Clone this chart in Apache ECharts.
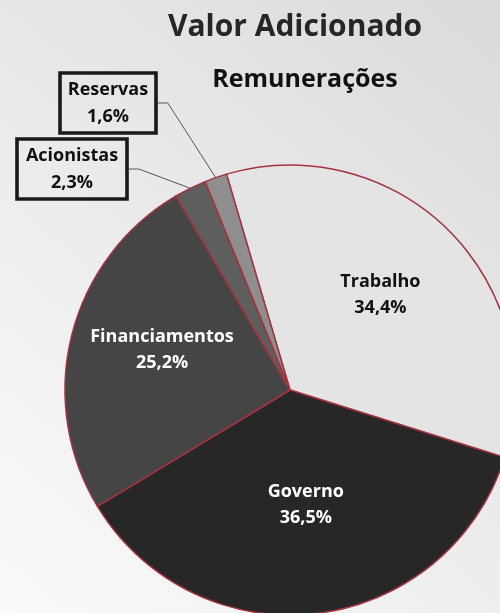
<!DOCTYPE html>
<html>
<head>
<meta charset="utf-8">
<script src="https://cdn.jsdelivr.net/npm/echarts@6/dist/echarts.min.js"></script>
<style>
  html, body { margin: 0; padding: 0; }
  #chart { width: 500px; height: 613px; }
</style>
</head>
<body>
<div id="chart"></div>
<script>
// dados do gráfico
const categories = ['Trabalho', 'Governo', 'Financiamentos', 'Acionistas', 'Reservas']
const values = [34.4, 36.5, 25.2, 2.3, 1.6]
const sliceColors = ['#e4e4e4', '#272727', '#454545', '#5e5e5e', '#8e8e8e']
const labelColors = ['#111', '#fff', '#fff', '#111', '#111']

const chart = echarts.init(document.getElementById('chart'))

// posições dos rótulos (ajuste manual)
const labelShift = {
    0: { dx: 8, dy: -14 },
    1: { dx: 2, dy: 0 },
    2: { dx: -16, dy: -12 }
}
const boxPos = {
    3: { x: 72, y: 169, w: 100 },
    4: { x: 108, y: 103, w: 86 }
}

const fmt = (v) => v.toFixed(1).replace('.', ',') + '%'

const option = {
    backgroundColor: {
        type: 'linear', x: 1, y: 0, x2: 0, y2: 1,
        colorStops: [
            { offset: 0, color: '#dadada' },
            { offset: 0.6, color: '#eeeeee' },
            { offset: 1, color: '#fafafa' }
        ]
    },
    title: [
        {
            text: 'Valor Adicionado',
            left: 290, top: 7, textAlign: 'center',
            textStyle: { fontFamily: 'Open Sans', fontWeight: 'bold', fontSize: 30, color: '#262626' }
        },
        {
            text: 'Remunerações',
            left: 300, top: 62, textAlign: 'center',
            textStyle: { fontFamily: 'Open Sans', fontWeight: 'bold', fontSize: 25, color: '#111' }
        }
    ],
    series: [
        {
            type: 'pie',
            center: [290, 390],
            radius: 225,
            startAngle: 106.4,
            clockwise: true,
            animation: false,
            itemStyle: { borderColor: '#a3333d', borderWidth: 1.5 },
            label: {
                position: 'inside',
                fontFamily: 'Open Sans',
                fontWeight: 'bold',
                fontSize: 18,
                lineHeight: 26,
                formatter: (p) => p.name + '\n' + fmt(p.value)
            },
            labelLine: { show: false },
            labelLayout: function (p) {
                const b = boxPos[p.dataIndex]
                if (b) {
                    return { x: b.x, y: b.y, align: 'center', verticalAlign: 'middle' }
                }
                return labelShift[p.dataIndex] || {}
            },
            data: categories.map((name, i) => {
                const item = {
                    name: name,
                    value: values[i],
                    itemStyle: { color: sliceColors[i] },
                    label: { color: labelColors[i] }
                }
                if (boxPos[i]) {
                    item.label = {
                        position: 'outside',
                        overflow: 'none',
                        width: boxPos[i].w,
                        align: 'center',
                        color: '#111',
                        borderColor: '#1a1a1a',
                        borderWidth: 1.8,
                        padding: [3, 5, 3, 5],
                        lineHeight: 27,
                        backgroundColor: 'transparent'
                    }
                    item.labelLine = {
                        show: true,
                        length: 10,
                        length2: 10,
                        lineStyle: { color: '#555', width: 1 }
                    }
                }
                return item
            })
        }
    ]
}

chart.setOption(option)
</script>
</body>
</html>
